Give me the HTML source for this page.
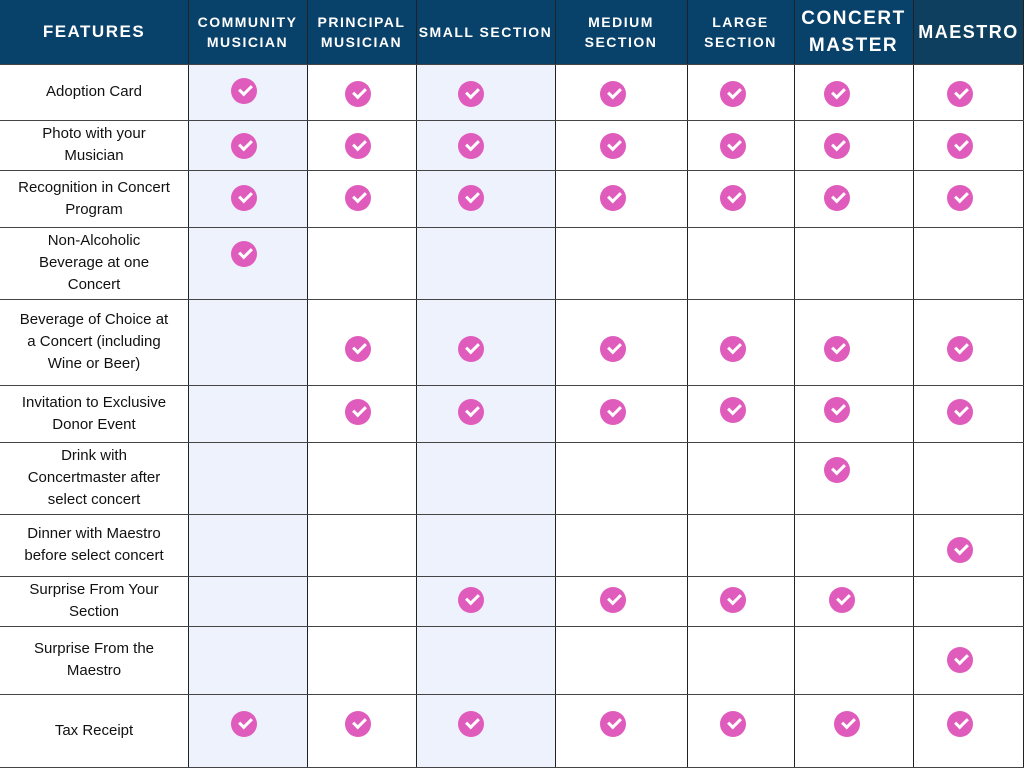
<!DOCTYPE html>
<html><head><meta charset="utf-8"><style>
body{margin:0;width:1024px;height:768px;background:#fff;position:relative;overflow:hidden;font-family:"Liberation Sans",sans-serif}
.h{position:absolute;top:0;height:64px;background:#08416a;color:#fff;display:flex;align-items:center;justify-content:center;text-align:center;font-size:14px;font-weight:bold;letter-spacing:1.5px;line-height:20px}
.blue{position:absolute;top:64px;height:704px;background:#eef2fd}
.vl{position:absolute;top:0;height:768px;width:1px;background:#222}
.hl{position:absolute;left:0;width:1024px;height:1px;background:#444}
.f{position:absolute;left:0;width:188px;display:flex;align-items:center;justify-content:center;text-align:center;font-size:15px;line-height:22px;color:#111}
.c{position:absolute;width:26px;height:26px;border-radius:50%;background:#e05cbc}
.c:after{content:"";position:absolute;left:8px;top:7px;width:10px;height:5px;border-left:3px solid #fff;border-bottom:3px solid #fff;transform:rotate(-45deg)}
</style></head><body>
<div class="blue" style="left:188px;width:119px"></div>
<div class="blue" style="left:416px;width:139px"></div>
<div class="h" style="left:0;width:188px;font-size:17px">FEATURES</div>
<div class="h" style="left:188px;width:119px">COMMUNITY<br>MUSICIAN</div>
<div class="h" style="left:307px;width:109px">PRINCIPAL<br>MUSICIAN</div>
<div class="h" style="left:416px;width:139px">SMALL SECTION</div>
<div class="h" style="left:555px;width:132px">MEDIUM<br>SECTION</div>
<div class="h" style="left:687px;width:107px">LARGE<br>SECTION</div>
<div class="h" style="left:794px;width:119px;font-size:19px;line-height:27px">CONCERT<br>MASTER</div>
<div class="h" style="left:913px;width:111px;background:#0f3f5e;font-size:18px">MAESTRO</div>
<div class="f" style="top:64px;height:56px">Adoption Card</div>
<div class="f" style="top:120px;height:50px">Photo with your<br>Musician</div>
<div class="f" style="top:170px;height:57px">Recognition in Concert<br>Program</div>
<div class="f" style="top:227px;height:72px">Non-Alcoholic<br>Beverage at one<br>Concert</div>
<div class="f" style="top:299px;height:86px">Beverage of Choice at<br>a Concert (including<br>Wine or Beer)</div>
<div class="f" style="top:385px;height:57px">Invitation to Exclusive<br>Donor Event</div>
<div class="f" style="top:442px;height:72px">Drink with<br>Concertmaster after<br>select concert</div>
<div class="f" style="top:514px;height:62px">Dinner with Maestro<br>before select concert</div>
<div class="f" style="top:576px;height:50px">Surprise From Your<br>Section</div>
<div class="f" style="top:626px;height:68px">Surprise From the<br>Maestro</div>
<div class="f" style="top:694px;height:74px">Tax Receipt</div>
<div class="vl" style="left:188px"></div><div class="vl" style="left:307px"></div><div class="vl" style="left:416px"></div><div class="vl" style="left:555px"></div><div class="vl" style="left:687px"></div><div class="vl" style="left:794px"></div><div class="vl" style="left:913px"></div><div class="vl" style="left:1023px"></div>
<div class="hl" style="top:64px"></div><div class="hl" style="top:120px"></div><div class="hl" style="top:170px"></div><div class="hl" style="top:227px"></div><div class="hl" style="top:299px"></div><div class="hl" style="top:385px"></div><div class="hl" style="top:442px"></div><div class="hl" style="top:514px"></div><div class="hl" style="top:576px"></div><div class="hl" style="top:626px"></div><div class="hl" style="top:694px"></div><div class="hl" style="top:767px"></div>
<script>
var X=[244,358,471,613,733,837,960];
var R=[[94,[1,2,3,4,5,6,7]],[146,[1,2,3,4,5,6,7]],[198,[1,2,3,4,5,6,7]],[254,[1]],[349,[2,3,4,5,6,7]],[412,[2,3,4,5,6,7]],[470,[6]],[550,[7]],[600,[3,4,5,6]],[660,[7]],[724,[1,2,3,4,5,6,7]]];
var DX={"600_6":5,"724_6":10},DY={"94_1":-3,"412_5":-2,"412_6":-2};
R.forEach(function(r){r[1].forEach(function(c){var k=r[0]+"_"+c;var d=document.createElement('div');d.className='c';d.style.left=(X[c-1]-13+(DX[k]||0))+'px';d.style.top=(r[0]-13+(DY[k]||0))+'px';document.body.appendChild(d);});});
</script>
</body></html>
